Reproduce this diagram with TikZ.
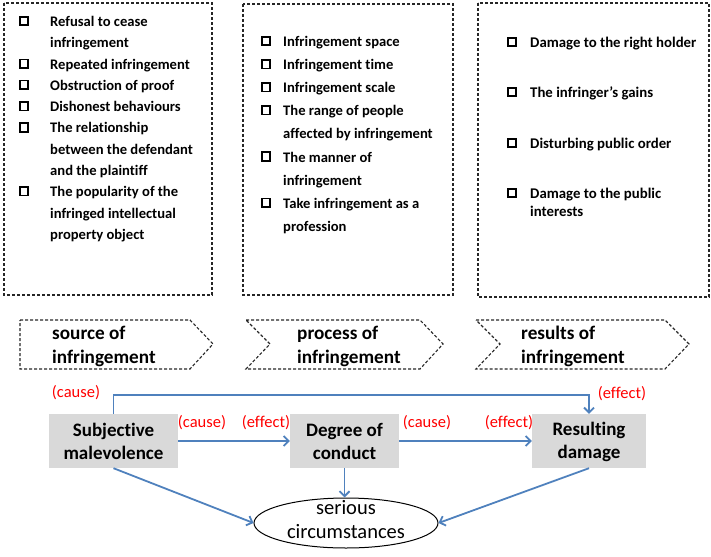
\documentclass[tikz,border=0pt]{standalone}
\usepackage{fontspec}
\setmainfont{Carlito}[Ligatures={NoCommon}]
\usetikzlibrary{arrows.meta,shapes.geometric}
\definecolor{flowblue}{HTML}{4F81BD}
\definecolor{boxgray}{HTML}{D9D9D9}
\definecolor{tagred}{HTML}{FF0000}
% fixed line strut so the factor labels sit alike in every box
\newcommand\lnstrut{\rule[-2pt]{0pt}{17pt}}
\begin{document}
\begin{tikzpicture}[x=1pt,y=-1pt,
  frame/.style={draw=black!85,line width=1.1pt,dash pattern=on 3pt off 2pt},
  chk/.style={draw=black,line width=1.6pt,minimum size=8.5pt,inner sep=0pt},
  % multi-line nodes are anchored at the baseline of their last line
  itemA/.style={anchor=base west,align=left,inner sep=0pt,font=\bfseries\fontsize{14.6}{21.3}\selectfont},
  itemB/.style={anchor=base west,align=left,inner sep=0pt,font=\bfseries\fontsize{14.6}{23.1}\selectfont},
  itemC/.style={anchor=base west,align=left,inner sep=0pt,font=\bfseries\fontsize{14.8}{17.7}\selectfont},
  stage/.style={anchor=base west,align=left,inner sep=0pt,font=\bfseries\fontsize{19.2}{24}\selectfont},
  factor/.style={fill=boxgray,minimum width=129pt,minimum height=54pt,align=center,inner sep=0pt,font=\bfseries\fontsize{19}{23}\selectfont},
  tag/.style={text=tagred,inner sep=0pt,font=\fontsize{16.5}{18}\selectfont},
  arr/.style={draw=flowblue,line width=1.8pt,-{Straight Barb[length=5pt,width=10pt,line width=1.8pt]}}]
\useasboundingbox (0,0) rectangle (711,556);

% three dashed frames with their bullet lists
\draw[frame] (4,3) rectangle (212,295);
\draw[frame] (243,4) rectangle (453,295);
\draw[frame] (478,3) rectangle (709,297);

% source of infringement
\foreach \k/\n in {0/1,2/2,3/3,4/4,5/5,8/6}
  \node[chk] (ca\n) at (24,{21+21.3*\k}) {};
\node[itemA] (a1) at (50,{26.5+21.3}) {Refusal to cease\\infringement};
\node[itemA] (a2) at (50,{26.5+21.3*2}) {Repeated infringement};
\node[itemA] (a3) at (50,{26.5+21.3*3}) {Obstruction of proof};
\node[itemA] (a4) at (50,{26.5+21.3*4}) {Dishonest behaviours};
\node[itemA] (a5) at (50,{26.5+21.3*7}) {The relationship\\between the defendant\\and the plaintiff};
\node[itemA] (a6) at (50,{26.5+21.3*10}) {The popularity of the\\infringed intellectual\\property object};

% process of infringement
\foreach \k/\n in {0/1,1/2,2/3,3/4,5/5,7/6}
  \node[chk] (cb\n) at (266,{41+23.1*\k}) {};
\node[itemB] (b1) at (283,46.5) {Infringement space};
\node[itemB] (b2) at (283,{46.5+23.1}) {Infringement time};
\node[itemB] (b3) at (283,{46.5+23.1*2}) {Infringement scale};
\node[itemB] (b4) at (283,{46.5+23.1*4}) {The range of people\\affected by infringement};
\node[itemB] (b5) at (283,{46.5+23.1*6}) {The manner of\\infringement};
\node[itemB] (b6) at (283,{46.5+23.1*8}) {Take infringement as a\\profession};

% results of infringement
\foreach \y/\n in {42/1,92/2,143/3,193/4}
  \node[chk] (cc\n) at (512,\y) {};
\node[itemC] (c1) at (530,47.5) {Damage to the right holder};
\node[itemC] (c2) at (530,97.5) {The infringer{\char"27}s gains};
\node[itemC] (c3) at (530,148.5) {Disturbing public order};
\node[itemC] (c4) at (530,216.5) {Damage to the public\\interests};

% stage chevrons
\draw[frame] (20,320) -- (190,320) -- (213,344) -- (190,369) -- (20,369) -- cycle;
\draw[frame] (246,320) -- (420,320) -- (443,344) -- (420,369) -- (246,369) -- (270,344) -- cycle;
\draw[frame] (476,320) -- (665,320) -- (689,344) -- (665,369) -- (476,369) -- (500,344) -- cycle;
\node[stage] (s1) at (52,363) {source of\\infringement};
\node[stage] (s2) at (297,363) {process of\\infringement};
\node[stage] (s3) at (521,363) {results of\\infringement};

% factor boxes
\node[factor] (sm) at (113.5,441) {\lnstrut Subjective\\\lnstrut malevolence};
\node[factor,minimum width=109pt] (dc) at (344.5,441) {\lnstrut Degree of\\\lnstrut conduct};
\node[factor,minimum width=114pt] (rd) at (589,441) {\lnstrut Resulting\\\lnstrut damage};
\node[draw=black,line width=1pt,ellipse,minimum width=184pt,minimum height=50pt,inner sep=0pt] (sc) at (346,523) {};
\node[align=center,inner sep=0pt,font=\fontsize{20.5}{24}\selectfont] (sct) at (346,519.5) {serious\\circumstances};

% causal links
\coordinate (top) at (350,395);
\draw[arr] (sm.north) |- (top) -| (rd.north);
\draw[arr] (sm.east) -- (dc.west);
\draw[arr] (dc.east) -- (rd.west);
\draw[arr] (sm.south) -- (sc.west);
\draw[arr] (dc.south) -- (dc.south |- sc.north);
\draw[arr] (rd.south) -- (sc.east);

% cause / effect tags
\node[tag] (t1) at (76,393) {(cause)};
\node[tag] (t2) at (202,423) {(cause)};
\node[tag] (t3) at (266,423) {(effect)};
\node[tag] (t4) at (427,423) {(cause)};
\node[tag] (t5) at (509,423) {(effect)};
\node[tag] (t6) at (622,394) {(effect)};
\end{tikzpicture}
\end{document}
